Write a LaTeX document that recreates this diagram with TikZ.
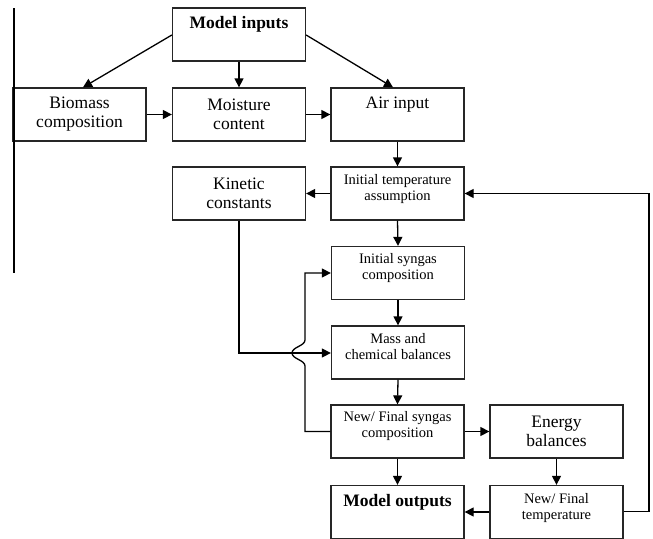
\documentclass[tikz,border=0pt]{standalone}
\usepackage{fontspec}
\setmainfont{Liberation Serif}
\usetikzlibrary{arrows.meta}
\begin{document}
\begin{tikzpicture}[x=1pt,y=-1pt,
  box/.style={draw=black!85,line width=1.3pt,minimum width=133pt,minimum height=53pt,inner sep=0pt,align=center},
  big/.style={font=\fontsize{17.5}{19}\selectfont},
  small/.style={font=\fontsize{14.5}{16}\selectfont},
  txt/.style={inner sep=0pt,align=center},
  arr/.style={line width=1.3pt,-{Triangle[length=9pt,width=9pt]}},
  ln/.style={line width=1.3pt}]
\useasboundingbox (0,0) rectangle (653,538);
% boxes
\node[box] (mi) at (239,34.5) {};
\node[txt,font=\fontsize{17.5}{19}\selectfont\bfseries] (mit) at ([yshift=-17pt]mi.north) {Model inputs};
\node[box,big] (bc) at (79.5,114.5) {Biomass\\composition};
\node[box,big] (mc) at (239,114.5) {Moisture\\content};
\node[box] (ai) at (397.5,114.5) {};
\node[txt,big] (ait) at ([yshift=-17pt]ai.north) {Air input};
\node[box,big] (kc) at (239,193.5) {Kinetic\\constants};
\node[box,small] (it) at (397.5,193.5) {Initial temperature\\assumption\\[-3pt]};
\node[box,small] (is) at (398,273) {Initial syngas\\composition\\[-3pt]};
\node[box,small] (mb) at (398,352.5) {Mass and\\chemical balances\\[-3pt]};
\node[box,small] (ns) at (397.5,431.5) {New/ Final syngas\\composition\\[-2pt]};
\node[box,big] (eb) at (556.5,431.5) {Energy\\balances};
\node[box] (mo) at (397.5,512) {};
\node[txt,font=\fontsize{17.5}{19}\selectfont\bfseries] (mot) at ([yshift=-17pt]mo.north) {Model outputs};
\node[box,small] (nt) at (556.5,512) {New/ Final\\temperature\\[-4pt]};
% stray vertical line
\draw[ln] (14,8) -- (14,273);
% connectors
\draw[arr] ([yshift=-0.5pt]mi.west) -- ([xshift=3.5pt]bc.north);
\draw[arr] (mi.south) -- (mc.north);
\draw[arr] ([yshift=-0.5pt]mi.east) -- ([xshift=-4.5pt]ai.north);
\draw[arr] (bc.east) -- (mc.west);
\draw[arr] (mc.east) -- (ai.west);
\draw[arr] (ai.south) -- (it.north);
\draw[arr] (it.west) -- (kc.east);
\draw[arr] (it.south) -- (is.north);
\draw[arr] (is.south) -- (mb.north);
\draw[arr] (mb.south) -- (ns.north);
\coordinate (k1) at (239,353);
\draw[arr] (kc.south) -- (k1) -- (mb.west |- k1);
\coordinate (s1) at (305,431.5);
\coordinate (s2) at (305,366);
\coordinate (s3) at (292,353);
\coordinate (s4) at (305,340);
\coordinate (s5) at (305,273);
\draw[arr] (ns.west) -- (s1) -- (s2) .. controls (305,360) and (292,359) .. (s3) .. controls (292,347) and (305,346) .. (s4) -- (s5) -- (is.west);
\draw[arr] (ns.east) -- (eb.west);
\draw[arr] (ns.south) -- (mo.north);
\draw[arr] (eb.south) -- (nt.north);
\draw[arr] (nt.west) -- (mo.east);
\coordinate (f1) at (649,511.5);
\coordinate (f2) at (649,193.5);
\draw[arr] (nt.east |- f1) -- (f1) -- (f2) -- (it.east);
\end{tikzpicture}
\end{document}
